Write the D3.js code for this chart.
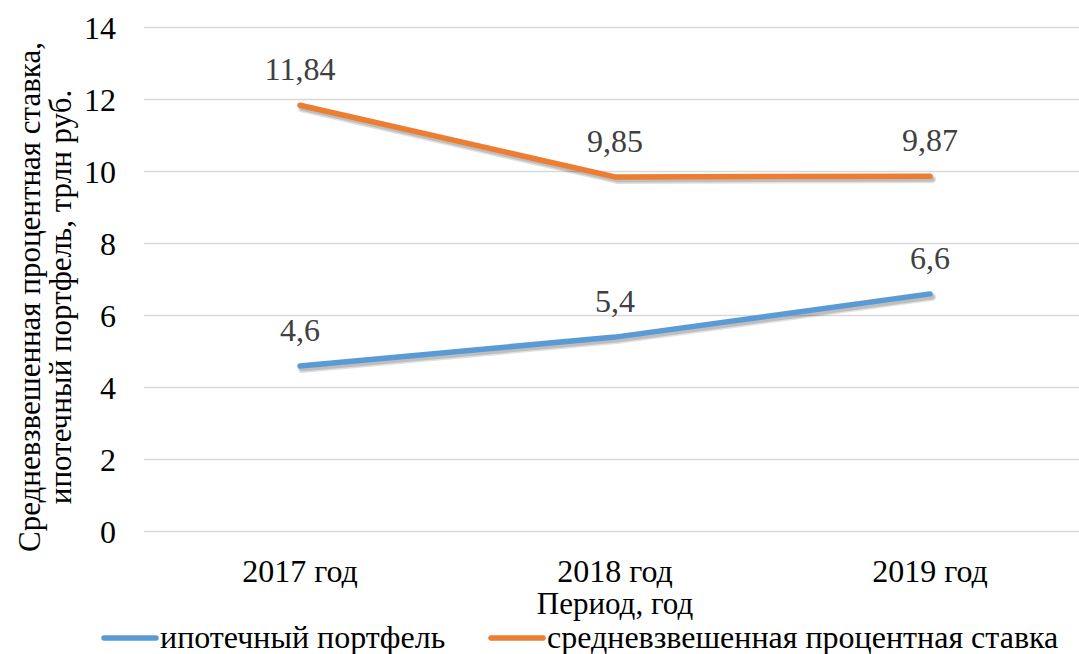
<!DOCTYPE html>
<html><head><meta charset="utf-8">
<script src="https://cdn.jsdelivr.net/npm/d3@7"></script>
</head><body style="margin:0">
<script>
const categories = ["2017 год", "2018 год", "2019 год"];
const mortgage = [4.6, 5.4, 6.6];
const rate = [11.84, 9.85, 9.87];
const mortgageLabels = ["4,6", "5,4", "6,6"];
const rateLabels = ["11,84", "9,85", "9,87"];
const yTicks = [0, 2, 4, 6, 8, 10, 12, 14];
const seriesNames = ["ипотечный портфель", "средневзвешенная процентная ставка"];

const W = 1079, H = 654;
const FONT = "Liberation Serif";
const svg = d3.select("body").append("svg").attr("width", W).attr("height", H).style("display", "block");

const x = d3.scalePoint().domain(categories).range([142.5, 1087.5]).padding(0.5);
const y = d3.scaleLinear().domain([0, 14]).range([531.5, 27.5]);

// gridlines
svg.append("g").selectAll("line").data(yTicks).join("line")
  .attr("x1", 144).attr("x2", W).attr("y1", d => y(d)).attr("y2", d => y(d))
  .attr("stroke", "#d9d9d9").attr("stroke-width", 1.5);

// y tick labels
svg.append("g").selectAll("text").data(yTicks).join("text")
  .attr("x", 116).attr("y", d => y(d)).attr("dy", "0.35em").attr("text-anchor", "end")
  .style("font-family", FONT).attr("font-size", 32).attr("fill", "#000").text(d => d);

// x tick labels
svg.append("g").selectAll("text").data(categories).join("text")
  .attr("x", d => x(d)).attr("y", 582).attr("text-anchor", "middle")
  .style("font-family", FONT).attr("font-size", 32).attr("fill", "#000").text(d => d);

// axis titles
svg.append("text").attr("x", 615).attr("y", 614).attr("text-anchor", "middle")
  .style("font-family", FONT).attr("font-size", 31).text("Период, год");
const yt = svg.append("text").attr("transform", "translate(0,297) rotate(-90)")
  .attr("text-anchor", "middle").style("font-family", FONT).attr("font-size", 31);
yt.append("tspan").attr("x", 0).attr("y", 40).text("Средневзвешенная процентная ставка,");
yt.append("tspan").attr("x", 0).attr("y", 71).text("ипотечный портфель, трлн руб.");

const line = d3.line().x((d, i) => x(categories[i])).y(d => y(d));
const series = [
  {vals: mortgage, labels: mortgageLabels, color: "#5B9BD5"},
  {vals: rate, labels: rateLabels, color: "#ED7D31"}
];
series.forEach(s => {
  // soft shadow without filters
  svg.append("path").datum(s.vals).attr("d", line).attr("fill", "none")
    .attr("transform", "translate(2,3)")
    .attr("stroke", "#000").attr("stroke-opacity", 0.12).attr("stroke-width", 8)
    .attr("stroke-linecap", "round").attr("stroke-linejoin", "round");
  svg.append("path").datum(s.vals).attr("d", line).attr("fill", "none")
    .attr("transform", "translate(2,3)")
    .attr("stroke", "#000").attr("stroke-opacity", 0.15).attr("stroke-width", 5)
    .attr("stroke-linecap", "round").attr("stroke-linejoin", "round");
  svg.append("path").datum(s.vals).attr("d", line).attr("fill", "none")
    .attr("stroke", s.color).attr("stroke-width", 5.5).attr("stroke-linecap", "round")
    .attr("stroke-linejoin", "round");
  svg.append("g").selectAll("text").data(s.vals).join("text")
    .attr("x", (d, i) => x(categories[i])).attr("y", d => y(d) - 25)
    .attr("text-anchor", "middle").style("font-family", FONT).attr("font-size", 32)
    .attr("fill", "#404040").text((d, i) => s.labels[i]);
});

// legend
const lg = svg.append("g");
const legendItems = [{x: 104, color: "#5B9BD5", name: seriesNames[0]}, {x: 491, color: "#ED7D31", name: seriesNames[1]}];
legendItems.forEach(it => {
  lg.append("line").attr("x1", it.x).attr("x2", it.x + 52).attr("y1", 638).attr("y2", 638)
    .attr("stroke", it.color).attr("stroke-width", 5.5).attr("stroke-linecap", "round");
  lg.append("text").attr("x", it.x + 56).attr("y", 648)
    .style("font-family", FONT).attr("font-size", 32).attr("fill", "#000").text(it.name);
});
</script>
</body></html>
